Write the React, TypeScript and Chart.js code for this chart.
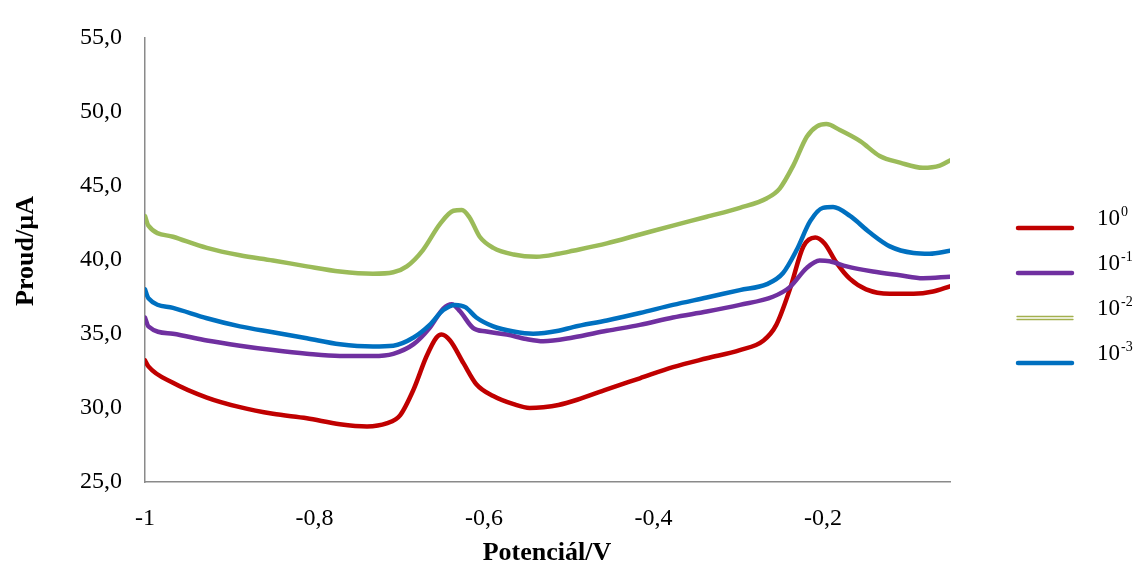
import React, { useEffect, useRef } from 'react';
import { Chart, registerables } from 'chart.js';

Chart.register(...registerables);

// ---- data (potential in V, current in µA) ----
const redX = [-1.0, -0.996, -0.967, -0.927, -0.888, -0.849, -0.809, -0.77, -0.738, -0.715, -0.699, -0.683, -0.668, -0.656, -0.65, -0.64, -0.624, -0.609, -0.589, -0.565, -0.546, -0.53, -0.512, -0.49, -0.455, -0.416, -0.377, -0.337, -0.298, -0.27, -0.255, -0.239, -0.223, -0.209, -0.198, -0.184, -0.168, -0.149, -0.121, -0.093, -0.07, -0.05];
const redY = [33.2, 32.8, 31.7, 30.7, 30.05, 29.6, 29.3, 28.9, 28.75, 28.95, 29.5, 31.25, 33.45, 34.75, 34.95, 34.55, 33.0, 31.6, 30.8, 30.25, 30.0, 30.05, 30.2, 30.55, 31.25, 32.0, 32.75, 33.35, 33.9, 34.55, 35.6, 38.0, 40.9, 41.5, 41.1, 39.8, 38.7, 38.0, 37.7, 37.7, 37.85, 38.2];

const purpleX = [-1.0, -0.996, -0.967, -0.927, -0.888, -0.849, -0.809, -0.77, -0.731, -0.707, -0.683, -0.664, -0.648, -0.638, -0.628, -0.613, -0.597, -0.573, -0.55, -0.53, -0.495, -0.455, -0.416, -0.377, -0.337, -0.298, -0.259, -0.239, -0.219, -0.204, -0.192, -0.172, -0.141, -0.109, -0.082, -0.05];
const purpleY = [36.1, 35.5, 35.0, 34.55, 34.2, 33.9, 33.65, 33.5, 33.5, 33.65, 34.3, 35.4, 36.7, 37.0, 36.5, 35.4, 35.15, 34.95, 34.65, 34.5, 34.75, 35.2, 35.6, 36.1, 36.5, 36.95, 37.5, 38.15, 39.45, 39.95, 39.9, 39.55, 39.2, 38.95, 38.75, 38.85];

const greenX = [-1.0, -0.996, -0.967, -0.927, -0.888, -0.849, -0.809, -0.77, -0.731, -0.707, -0.691, -0.672, -0.652, -0.636, -0.626, -0.617, -0.605, -0.589, -0.565, -0.538, -0.512, -0.495, -0.455, -0.416, -0.377, -0.337, -0.298, -0.266, -0.251, -0.235, -0.219, -0.207, -0.196, -0.18, -0.156, -0.133, -0.109, -0.082, -0.062, -0.05];
const greenY = [42.95, 42.3, 41.55, 40.8, 40.3, 39.95, 39.55, 39.2, 39.05, 39.15, 39.55, 40.65, 42.4, 43.3, 43.35, 42.85, 41.55, 40.8, 40.35, 40.2, 40.4, 40.6, 41.1, 41.7, 42.3, 42.9, 43.5, 44.15, 44.8, 46.35, 48.3, 49.0, 49.15, 48.75, 48.0, 47.0, 46.55, 46.2, 46.35, 46.7];

const blueX = [-1.0, -0.996, -0.967, -0.927, -0.888, -0.849, -0.809, -0.77, -0.731, -0.707, -0.683, -0.664, -0.648, -0.634, -0.622, -0.609, -0.589, -0.565, -0.542, -0.512, -0.495, -0.455, -0.416, -0.377, -0.337, -0.298, -0.266, -0.247, -0.231, -0.215, -0.2, -0.188, -0.168, -0.145, -0.121, -0.093, -0.074, -0.05];
const blueY = [38.0, 37.4, 36.75, 36.05, 35.5, 35.1, 34.7, 34.3, 34.15, 34.2, 34.75, 35.6, 36.6, 36.95, 36.8, 36.1, 35.5, 35.15, 35.0, 35.2, 35.45, 35.9, 36.4, 36.95, 37.45, 37.95, 38.35, 39.1, 40.65, 42.6, 43.5, 43.55, 42.95, 41.85, 40.9, 40.45, 40.4, 40.6];

const seriesExp = ['0', '-1', '-2', '-3'];
const xTickValues = [-1, -0.8, -0.6, -0.4, -0.2];

const RED = '#C00000';
const PURPLE = '#7030A0';
const GREEN = '#9BBB59';
const BLUE = '#0070C0';
const AXIS = '#8A8A8A';
const SERIF = '"Liberation Serif", "Times New Roman", serif';

const zip = (xs: number[], ys: number[]) => xs.map((x, i) => ({ x, y: ys[i] }));

const overlay = {
  id: 'overlay',
  afterDraw(chart: any) {
    const ctx = chart.ctx as CanvasRenderingContext2D;
    ctx.save();
    ctx.fillStyle = '#000';
    // y title
    ctx.font = `bold 26px ${SERIF}`;
    ctx.textAlign = 'center';
    ctx.textBaseline = 'alphabetic';
    ctx.save();
    ctx.translate(33, 251);
    ctx.rotate(-Math.PI / 2);
    ctx.fillText('Proud/µA', 0, 0);
    ctx.restore();
    // x title
    ctx.fillText('Potenciál/V', 547, 560);

    // legend
    const colors = [RED, PURPLE, GREEN, BLUE];
    const ys = [228, 273, 318, 363];
    ys.forEach((y, i) => {
      if (i === 2) {
        ctx.strokeStyle = '#A3B04E';
        ctx.lineWidth = 1.3;
        ctx.beginPath();
        ctx.moveTo(1017, y - 1.5);
        ctx.lineTo(1073, y - 1.5);
        ctx.moveTo(1017, y + 1.5);
        ctx.lineTo(1073, y + 1.5);
        ctx.stroke();
      } else {
        ctx.strokeStyle = colors[i];
        ctx.lineWidth = 4.5;
        ctx.lineCap = 'round';
        ctx.beginPath();
        ctx.moveTo(1018, y);
        ctx.lineTo(1072, y);
        ctx.stroke();
      }
      ctx.fillStyle = '#000';
      ctx.textAlign = 'left';
      ctx.textBaseline = 'alphabetic';
      ctx.font = `23px ${SERIF}`;
      ctx.fillText('10', 1097, y - 3);
      const w = ctx.measureText('10').width;
      ctx.font = `14px ${SERIF}`;
      ctx.fillText(seriesExp[i], 1097 + w + 1, y - 12);
    });
    ctx.restore();
  },
};

export default function App() {
  const ref = useRef<HTMLCanvasElement>(null);
  useEffect(() => {
    document.body.style.margin = '0';
    const canvas = ref.current!;
    const chart = new Chart(canvas, {
      type: 'line',
      data: {
        datasets: [
          { label: '10^0', data: zip(redX, redY), borderColor: RED, order: 4 },
          { label: '10^-1', data: zip(purpleX, purpleY), borderColor: PURPLE, order: 3 },
          { label: '10^-2', data: zip(greenX, greenY), borderColor: GREEN, order: 2 },
          { label: '10^-3', data: zip(blueX, blueY), borderColor: BLUE, order: 1 },
        ],
      },
      options: {
        responsive: false,
        animation: false,
        layout: { padding: { left: 0, top: 25, right: 189, bottom: 0 } },
        plugins: { legend: { display: false }, tooltip: { enabled: false } },
        elements: {
          point: { radius: 0 },
          line: { borderWidth: 4.5, cubicInterpolationMode: 'monotone', borderCapStyle: 'round', borderJoinStyle: 'round' },
        },
        scales: {
          x: {
            type: 'linear',
            min: -1,
            max: -0.05,
            afterBuildTicks: (s: any) => {
              s.ticks = xTickValues.map((v) => ({ value: v }));
            },
            afterFit: (s: any) => {
              s.height = 563 - 482;
            },
            grid: { display: false, drawTicks: false },
            border: { display: true, color: AXIS, width: 1.5 },
            ticks: {
              autoSkip: false,
              maxRotation: 0,
              padding: 22,
              color: '#000',
              font: { family: SERIF, size: 24 },
              callback: (v: any) => (v === -1 ? '-1' : Number(v).toFixed(1).replace('.', ',')),
            },
          },
          y: {
            min: 25,
            max: 55,
            afterFit: (s: any) => {
              s.width = 145;
            },
            grid: { display: false, drawTicks: false },
            border: { display: true, color: AXIS, width: 1.5 },
            ticks: {
              stepSize: 5,
              padding: 23,
              color: '#000',
              font: { family: SERIF, size: 24 },
              callback: (v: any) => Number(v).toFixed(1).replace('.', ','),
            },
          },
        },
      },
      plugins: [overlay],
    });
    return () => chart.destroy();
  }, []);
  return <canvas ref={ref} width={1139} height={563} style={{ display: 'block' }} />;
}
